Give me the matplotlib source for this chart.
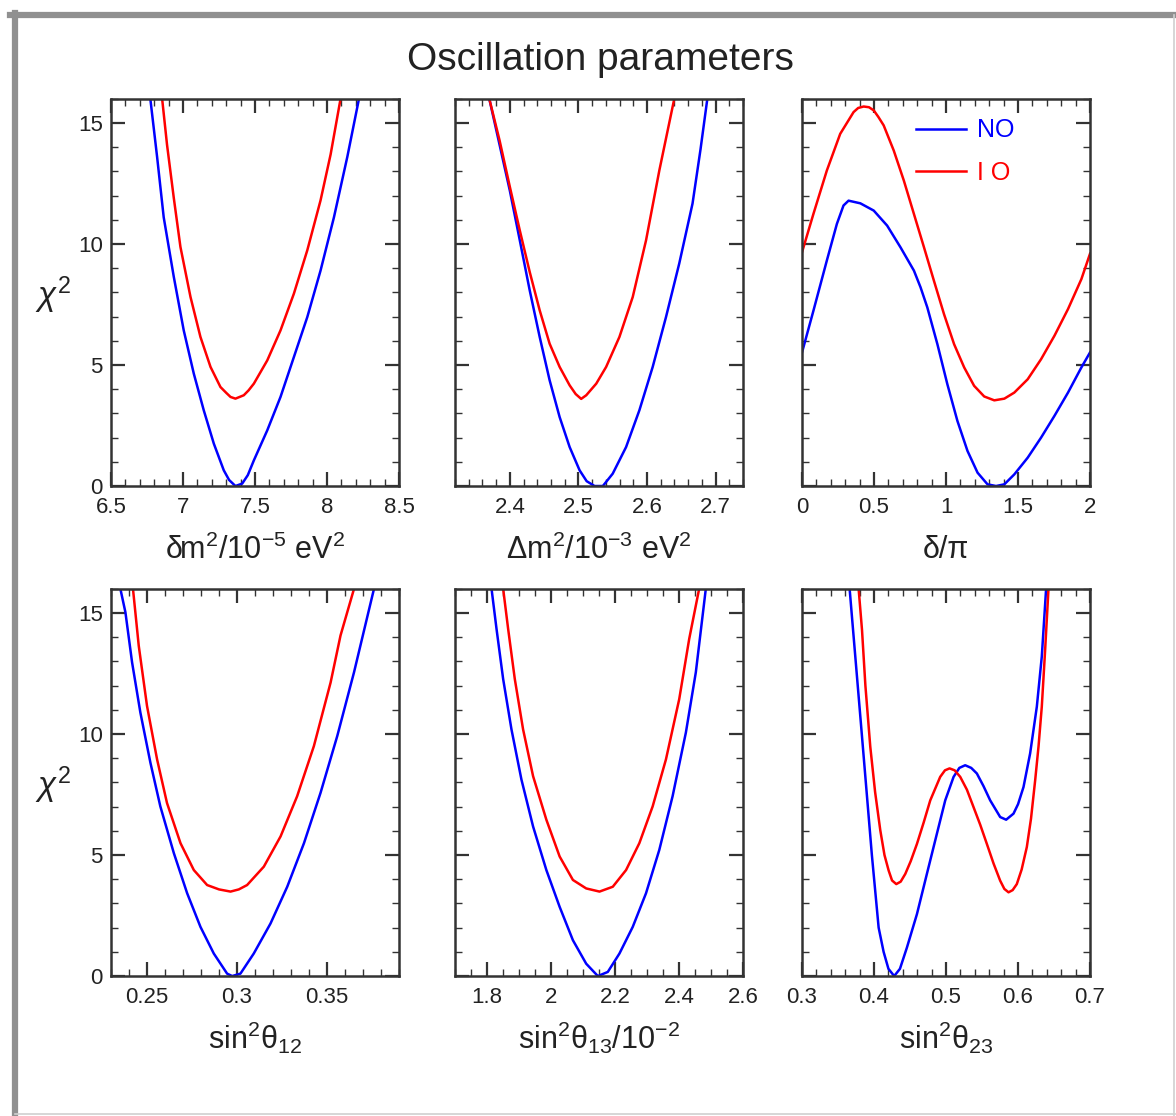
import matplotlib
matplotlib.use('Agg')
import matplotlib.pyplot as plt
from matplotlib.ticker import MultipleLocator
from matplotlib.lines import Line2D

plt.rcParams['font.family'] = ['Liberation Sans', 'DejaVu Sans']
plt.rcParams['mathtext.fontset'] = 'custom'
plt.rcParams['mathtext.rm'] = 'Liberation Sans'
plt.rcParams['mathtext.it'] = 'Liberation Sans:italic'

BLUE = '#0000ff'
RED = '#ff0000'

# --- chi^2 profiles (NO = normal, IO = inverted ordering) ---
# delta m^2 / 1e-5 eV^2
dm_no_x = [6.773, 6.82, 6.866, 6.936, 7.005, 7.075, 7.144, 7.214, 7.283, 7.32, 7.364,
           7.411, 7.45, 7.492, 7.585, 7.677, 7.77, 7.863, 7.955, 8.048, 8.141, 8.222]
dm_no_y = [16.0, 13.6, 11.1, 8.64, 6.43, 4.64, 3.13, 1.75, 0.65, 0.25, 0.0,
           0.1, 0.45, 1.06, 2.3, 3.68, 5.33, 6.98, 8.9, 11.1, 13.6, 16.0]
dm_io_x = [6.855, 6.889, 6.936, 6.982, 7.052, 7.121, 7.191, 7.26, 7.30, 7.33, 7.364,
           7.422, 7.455, 7.492, 7.585, 7.677, 7.77, 7.863, 7.955, 8.025, 8.094]
dm_io_y = [16.0, 14.1, 11.9, 9.88, 7.81, 6.16, 4.92, 4.09, 3.85, 3.68, 3.61,
           3.75, 3.95, 4.23, 5.19, 6.43, 7.95, 9.74, 11.8, 13.7, 16.0]

# Delta m^2 / 1e-3 eV^2
Dm_no_x = [2.370, 2.385, 2.400, 2.4145, 2.429, 2.4435, 2.458, 2.4726, 2.4872, 2.5017,
           2.512, 2.5235, 2.5356, 2.550, 2.5695, 2.5889, 2.6083, 2.6277, 2.647, 2.6664,
           2.678, 2.688]
Dm_no_y = [16.0, 14.1, 12.2, 10.15, 8.08, 6.16, 4.37, 2.85, 1.61, 0.65,
           0.2, 0.0, 0.0, 0.51, 1.61, 3.13, 4.92, 6.98, 9.19, 11.67,
           13.9, 16.0]
Dm_io_x = [2.370, 2.385, 2.400, 2.4145, 2.429, 2.4435, 2.458, 2.4726, 2.4872, 2.496,
           2.504, 2.5114, 2.526, 2.5404, 2.5598, 2.5792, 2.5986, 2.618, 2.6398]
Dm_io_y = [16.0, 14.28, 12.36, 10.56, 8.84, 7.26, 5.88, 4.92, 4.16, 3.8,
           3.6, 3.75, 4.23, 4.92, 6.16, 7.81, 10.15, 13.04, 16.0]

# delta / pi
cp_no_x = [0.0, 0.079, 0.172, 0.242, 0.288, 0.323, 0.405, 0.498, 0.591, 0.684, 0.777,
           0.823, 0.870, 0.94, 1.009, 1.079, 1.149, 1.219, 1.288, 1.347, 1.405,
           1.474, 1.567, 1.66, 1.753, 1.847, 1.94, 2.0]
cp_no_y = [5.52, 7.24, 9.31, 10.83, 11.59, 11.79, 11.68, 11.38, 10.76, 9.86, 8.9,
           8.21, 7.38, 5.86, 4.21, 2.69, 1.45, 0.55, 0.07, 0.0, 0.07,
           0.48, 1.17, 2.0, 2.9, 3.86, 4.9, 5.52]
cp_io_x = [0.0, 0.079, 0.172, 0.265, 0.358, 0.39, 0.428, 0.465, 0.498, 0.53, 0.567,
           0.637, 0.707, 0.777, 0.847, 0.916, 0.986, 1.056, 1.126, 1.195, 1.265,
           1.335, 1.405, 1.474, 1.567, 1.66, 1.753, 1.847, 1.94, 2.0]
cp_io_y = [9.66, 11.24, 13.03, 14.55, 15.45, 15.62, 15.68, 15.65, 15.52, 15.25, 14.9,
           13.86, 12.62, 11.24, 9.86, 8.48, 7.1, 5.86, 4.9, 4.14, 3.70,
           3.54, 3.61, 3.86, 4.41, 5.24, 6.21, 7.31, 8.55, 9.6]

# sin^2 theta_12
s12_no_x = [0.2352, 0.238, 0.2417, 0.2463, 0.2519, 0.2574, 0.2649, 0.2723, 0.2797, 0.2871,
            0.2945, 0.2973, 0.3019, 0.3093, 0.3186, 0.3279, 0.3372, 0.3464, 0.3557, 0.365, 0.3761]
s12_no_y = [16.0, 15.03, 12.96, 10.89, 8.81, 7.01, 5.08, 3.42, 2.03, 0.93,
            0.1, 0.0, 0.1, 0.93, 2.17, 3.69, 5.49, 7.57, 9.92, 12.55, 16.0]
s12_io_x = [0.2422, 0.2454, 0.25, 0.2556, 0.2611, 0.2686, 0.276, 0.2834, 0.29, 0.2964, 0.301,
            0.3056, 0.3149, 0.3242, 0.3334, 0.3427, 0.352, 0.3575, 0.365]
s12_io_y = [16.0, 13.65, 11.16, 8.95, 7.15, 5.49, 4.38, 3.76, 3.58, 3.49, 3.58,
            3.76, 4.52, 5.77, 7.43, 9.5, 12.13, 14.07, 16.0]

# sin^2 theta_13 / 1e-2
s13_no_x = [1.8142, 1.8298, 1.8505, 1.8765, 1.9076, 1.944, 1.9855, 2.027, 2.0685, 2.11,
            2.1464, 2.1775, 2.2139, 2.2554, 2.2969, 2.3384, 2.38, 2.4215, 2.4526, 2.4838]
s13_no_y = [16.0, 14.34, 12.27, 10.19, 8.12, 6.18, 4.38, 2.86, 1.48, 0.51,
            0.0, 0.17, 0.93, 2.03, 3.42, 5.21, 7.43, 10.06, 12.55, 16.0]
s13_io_x = [1.8505, 1.8661, 1.8869, 1.9128, 1.944, 1.9855, 2.027, 2.0685, 2.11, 2.1516,
            2.1931, 2.2346, 2.2761, 2.3177, 2.3592, 2.4007, 2.4319, 2.463]
s13_io_y = [16.0, 14.34, 12.27, 10.19, 8.26, 6.46, 4.94, 3.97, 3.62, 3.49,
            3.69, 4.38, 5.49, 7.01, 8.95, 11.44, 13.93, 16.0]

# sin^2 theta_23
s23_no_x = [0.3661, 0.3689, 0.383, 0.397, 0.4064, 0.4133, 0.420, 0.428, 0.436, 0.4457,
            0.4596, 0.4734, 0.4873, 0.4989, 0.5105, 0.5185, 0.5266, 0.535, 0.5428, 0.552,
            0.5613, 0.5752, 0.5835, 0.5937, 0.600, 0.6076, 0.6168, 0.6261, 0.633, 0.639]
s23_no_y = [16.0, 15.0, 10.0, 5.0, 2.0, 1.0, 0.3, 0.0, 0.3, 1.18,
            2.56, 4.22, 5.88, 7.26, 8.23, 8.6, 8.71, 8.6, 8.37, 7.85,
            7.26, 6.57, 6.46, 6.71, 7.1, 7.81, 9.2, 11.13, 13.2, 16.0]
s23_io_x = [0.3786, 0.3833, 0.388, 0.3948, 0.4015, 0.4087, 0.4145, 0.4203, 0.425, 0.4309,
            0.437, 0.4434, 0.451, 0.4596, 0.469, 0.4781, 0.4919, 0.4985, 0.5049, 0.512,
            0.5197, 0.529, 0.5382, 0.5475, 0.5567, 0.566, 0.5752, 0.581, 0.5868, 0.5925,
            0.5983, 0.605, 0.6122, 0.618, 0.6238, 0.6285, 0.633, 0.6375, 0.6423]
s23_io_y = [16.0, 14.3, 12.0, 9.47, 7.6, 6.02, 5.0, 4.36, 3.95, 3.8,
            3.9, 4.22, 4.75, 5.46, 6.35, 7.26, 8.23, 8.5, 8.58, 8.5,
            8.23, 7.7, 6.98, 6.25, 5.46, 4.65, 3.94, 3.6, 3.46, 3.55,
            3.8, 4.4, 5.33, 6.5, 8.09, 9.5, 11.13, 13.4, 16.0]

panels = [
    (dm_no_x, dm_no_y, dm_io_x, dm_io_y, (6.5, 8.5), 0.5, 0.1, r'δm$^2$/10$^{-5}$ eV$^2$'),
    (Dm_no_x, Dm_no_y, Dm_io_x, Dm_io_y, (2.32, 2.74), 0.1, 0.02, r'Δm$^2$/10$^{-3}$ eV$^2$'),
    (cp_no_x, cp_no_y, cp_io_x, cp_io_y, (0, 2), 0.5, 0.1, 'δ/π'),
    (s12_no_x, s12_no_y, s12_io_x, s12_io_y, (0.23, 0.39), 0.05, 0.01, r'sin$^2$θ$_{12}$'),
    (s13_no_x, s13_no_y, s13_io_x, s13_io_y, (1.7, 2.6), 0.2, 0.05, r'sin$^2$θ$_{13}$/10$^{-2}$'),
    (s23_no_x, s23_no_y, s23_io_x, s23_io_y, (0.3, 0.7), 0.1, 0.02, r'sin$^2$θ$_{23}$'),
]

fig = plt.figure(figsize=(11.76, 11.16), dpi=100)

lefts = [0.0944, 0.3869, 0.6820]
bottoms = [0.5645, 0.1254]
W, H = 0.2449, 0.347

fmt = lambda v, _: ('%g' % round(v, 3))

axes = []
for i, (nx, ny, ix, iy, xl, maj, mnr, xlabel) in enumerate(panels):
    ax = fig.add_axes([lefts[i % 3], bottoms[i // 3], W, H])
    axes.append(ax)
    ax.plot(nx, ny, color=BLUE, lw=1.8, label='NO', solid_joinstyle='round')
    ax.plot(ix, iy, color=RED, lw=1.8, label='I O', solid_joinstyle='round')
    ax.set_xlim(*xl)
    ax.set_ylim(0, 16)
    ax.xaxis.set_major_locator(MultipleLocator(maj))
    ax.xaxis.set_minor_locator(MultipleLocator(mnr))
    ax.xaxis.set_major_formatter(plt.FuncFormatter(fmt))
    ax.yaxis.set_major_locator(MultipleLocator(5))
    ax.yaxis.set_minor_locator(MultipleLocator(1))
    ax.tick_params(which='both', direction='in', top=True, right=True, colors='#333333')
    ax.tick_params(which='major', length=10, width=1.6, labelsize=16, pad=8, labelcolor='#222222')
    ax.tick_params(which='minor', length=5, width=1.0)
    ax.tick_params(axis='y', which='major', pad=6)
    for s in ax.spines.values():
        s.set_linewidth(1.8)
        s.set_color('#333333')
    ax.set_xlabel(xlabel, fontsize=22, labelpad=12 if i < 3 else 8, color='#222222')
    if i % 3 == 0:
        ax.set_ylabel(r'$\chi^2$', fontsize=24, rotation=0, color='#222222')
        ax.yaxis.set_label_coords(-0.2, 0.44)
    else:
        ax.set_yticklabels([])

axes[2].legend(loc='upper left', bbox_to_anchor=(0.36, 0.975), borderaxespad=0,
               frameon=False, fontsize=18, labelcolor='linecolor',
               handlelength=2.0, handletextpad=0.45, labelspacing=0.75)

fig.text(0.511, 0.946, 'Oscillation parameters', ha='center', va='center',
         fontsize=28, color='#222222')

# picture frame around the whole figure
fig.add_artist(Line2D([0.0085, 1.0], [0.9865, 0.9865], color='#909090', lw=4.5,
                      transform=fig.transFigure))
fig.add_artist(Line2D([0.0128, 0.0128], [0.0, 0.9885], color='#909090', lw=4.5,
                      transform=fig.transFigure))
fig.add_artist(Line2D([0.9985, 0.9985], [0.0, 0.9865], color='#d0d0d0', lw=1.2,
                      transform=fig.transFigure))
fig.add_artist(Line2D([0.0128, 1.0], [0.0015, 0.0015], color='#d0d0d0', lw=1.2,
                      transform=fig.transFigure))

fig.savefig('out.png', dpi=100)
